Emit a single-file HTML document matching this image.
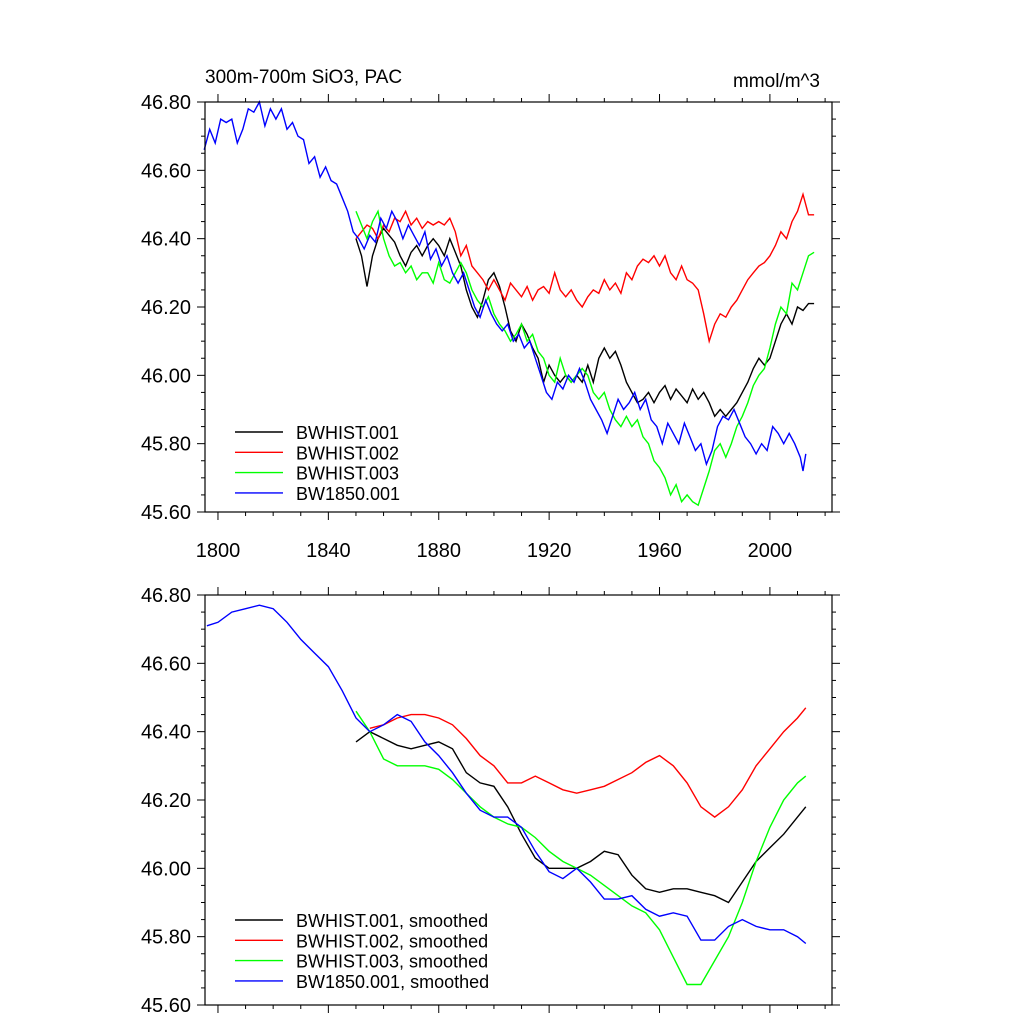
<!DOCTYPE html>
<html><head><meta charset="utf-8"><style>
body{margin:0;background:#fff}
svg{display:block;font-family:"Liberation Sans",sans-serif}
</style></head><body>
<svg id="c" width="1024" height="1024" xmlns="http://www.w3.org/2000/svg"></svg>
<script>
const blueYears=[1795,1797,1799,1801,1803,1805,1807,1809,1811,1813,1815,1817,1819,1821,1823,1825,1827,1829,1831,1833,1835,1837,1839,1841,1843,1845,1847,1849,1851,1853,1855,1857,1859,1861,1863,1865,1867,1869,1871,1873,1875,1877,1879,1881,1883,1885,1887,1889,1891,1893,1895,1897,1899,1901,1903,1905,1907,1909,1911,1913,1915,1917,1919,1921,1923,1925,1927,1929,1931,1933,1935,1937,1939,1941,1943,1945,1947,1949,1951,1953,1955,1957,1959,1961,1963,1965,1967,1969,1971,1973,1975,1977,1979,1981,1983,1985,1987,1989,1991,1993,1995,1997,1999,2001,2003,2005,2007,2009,2011,2012,2013];
const blueVals=[46.66,46.72,46.68,46.75,46.74,46.75,46.68,46.72,46.78,46.77,46.80,46.73,46.78,46.75,46.78,46.72,46.74,46.70,46.69,46.62,46.64,46.58,46.61,46.57,46.56,46.52,46.48,46.42,46.40,46.37,46.41,46.39,46.46,46.43,46.48,46.45,46.40,46.44,46.41,46.38,46.42,46.34,46.37,46.32,46.35,46.30,46.27,46.30,46.25,46.20,46.17,46.22,46.18,46.15,46.13,46.15,46.10,46.12,46.08,46.10,46.05,46.00,45.95,45.93,45.98,45.96,46.00,45.98,46.02,45.98,45.93,45.90,45.87,45.83,45.88,45.93,45.90,45.92,45.95,45.90,45.93,45.87,45.85,45.80,45.86,45.83,45.80,45.86,45.82,45.78,45.80,45.74,45.78,45.85,45.88,45.87,45.90,45.86,45.82,45.80,45.77,45.80,45.78,45.85,45.83,45.80,45.83,45.80,45.76,45.72,45.77];
const histYears=[1850,1852,1854,1856,1858,1860,1862,1864,1866,1868,1870,1872,1874,1876,1878,1880,1882,1884,1886,1888,1890,1892,1894,1896,1898,1900,1902,1904,1906,1908,1910,1912,1914,1916,1918,1920,1922,1924,1926,1928,1930,1932,1934,1936,1938,1940,1942,1944,1946,1948,1950,1952,1954,1956,1958,1960,1962,1964,1966,1968,1970,1972,1974,1976,1978,1980,1982,1984,1986,1988,1990,1992,1994,1996,1998,2000,2002,2004,2006,2008,2010,2012,2014,2016];
const blackVals=[46.40,46.35,46.26,46.35,46.40,46.43,46.41,46.39,46.35,46.32,46.36,46.38,46.35,46.38,46.40,46.38,46.35,46.40,46.36,46.32,46.25,46.20,46.17,46.22,46.28,46.30,46.26,46.20,46.13,46.10,46.15,46.12,46.08,46.05,45.98,46.03,46.00,45.98,46.00,45.98,46.00,45.98,46.03,45.98,46.05,46.08,46.05,46.07,46.03,45.98,45.95,45.92,45.93,45.95,45.92,45.95,45.97,45.93,45.96,45.94,45.92,45.96,45.93,45.95,45.92,45.88,45.90,45.88,45.90,45.92,45.95,45.98,46.02,46.05,46.03,46.05,46.10,46.15,46.18,46.15,46.20,46.19,46.21,46.21];
const redVals=[46.40,46.42,46.44,46.43,46.40,46.44,46.42,46.46,46.45,46.48,46.44,46.46,46.43,46.45,46.44,46.45,46.44,46.46,46.42,46.35,46.38,46.32,46.30,46.28,46.25,46.28,46.25,46.22,46.27,46.25,46.23,46.26,46.22,46.25,46.26,46.24,46.30,46.25,46.23,46.25,46.22,46.20,46.23,46.25,46.24,46.28,46.25,46.27,46.24,46.30,46.28,46.32,46.34,46.33,46.35,46.32,46.35,46.30,46.28,46.32,46.28,46.27,46.25,46.18,46.10,46.15,46.18,46.17,46.20,46.22,46.25,46.28,46.30,46.32,46.33,46.35,46.38,46.42,46.40,46.45,46.48,46.53,46.47,46.47];
const greenVals=[46.48,46.44,46.40,46.45,46.48,46.40,46.35,46.32,46.33,46.30,46.32,46.28,46.30,46.30,46.27,46.33,46.28,46.27,46.30,46.33,46.30,46.25,46.22,46.20,46.23,46.18,46.15,46.13,46.10,46.12,46.15,46.10,46.12,46.07,46.05,46.00,45.98,46.05,46.00,45.98,46.00,46.02,46.00,45.95,45.93,45.95,45.90,45.87,45.85,45.88,45.85,45.87,45.82,45.80,45.75,45.73,45.70,45.65,45.68,45.63,45.65,45.63,45.62,45.67,45.72,45.78,45.80,45.76,45.80,45.85,45.88,45.92,45.97,46.00,46.02,46.08,46.15,46.20,46.18,46.27,46.25,46.30,46.35,46.36];
const sBlueYears=[1796,1800,1805,1810,1815,1820,1825,1830,1835,1840,1845,1850,1855,1860,1865,1870,1875,1880,1885,1890,1895,1900,1905,1910,1915,1920,1925,1930,1935,1940,1945,1950,1955,1960,1965,1970,1975,1980,1985,1990,1995,2000,2005,2010,2013];
const sBlueVals=[46.71,46.72,46.75,46.76,46.77,46.76,46.72,46.67,46.63,46.59,46.52,46.44,46.40,46.42,46.45,46.43,46.37,46.33,46.28,46.22,46.17,46.15,46.15,46.12,46.05,45.99,45.97,46.00,45.96,45.91,45.91,45.92,45.88,45.86,45.87,45.86,45.79,45.79,45.83,45.85,45.83,45.82,45.82,45.80,45.78];
const sHistYears=[1850,1855,1860,1865,1870,1875,1880,1885,1890,1895,1900,1905,1910,1915,1920,1925,1930,1935,1940,1945,1950,1955,1960,1965,1970,1975,1980,1985,1990,1995,2000,2005,2010,2013];
const sBlackVals=[46.37,46.40,46.38,46.36,46.35,46.36,46.37,46.35,46.28,46.25,46.24,46.18,46.10,46.03,46.00,46.00,46.00,46.02,46.05,46.04,45.98,45.94,45.93,45.94,45.94,45.93,45.92,45.90,45.96,46.02,46.06,46.10,46.15,46.18];
const sRedVals=[46.41,46.41,46.42,46.44,46.45,46.45,46.44,46.42,46.38,46.33,46.30,46.25,46.25,46.27,46.25,46.23,46.22,46.23,46.24,46.26,46.28,46.31,46.33,46.30,46.25,46.18,46.15,46.18,46.23,46.30,46.35,46.40,46.44,46.47];
const sGreenVals=[46.46,46.40,46.32,46.30,46.30,46.30,46.29,46.26,46.22,46.18,46.15,46.13,46.12,46.09,46.05,46.02,46.00,45.98,45.95,45.92,45.89,45.87,45.82,45.74,45.66,45.66,45.73,45.80,45.90,46.02,46.12,46.20,46.25,46.27];
const yTicks=[45.6,45.8,46.0,46.2,46.4,46.6,46.8];
const xTicks=[1800,1840,1880,1920,1960,2000];
const legTop=["BWHIST.001","BWHIST.002","BWHIST.003","BW1850.001"];
const legBot=["BWHIST.001, smoothed","BWHIST.002, smoothed","BWHIST.003, smoothed","BW1850.001, smoothed"];
const cols=["#000","#f00","#0f0","#00f"];

const svg=document.getElementById('c');
const NS="http://www.w3.org/2000/svg";
const L=205,R=832,X0=1795.3,X1=2022.5;
const xs=y=>L+(y-X0)/(X1-X0)*(R-L);
function mk(t,a,p){const e=document.createElementNS(NS,t);for(const k in a)e.setAttribute(k,a[k]);(p||svg).appendChild(e);return e;}
function panel(top,bot,name,showX,series,leg,legY){
  const g=mk('g',{});
  
  
  const ys=v=>bot-(v-45.6)/1.2*(bot-top);
  for(let v=45.6;v<=46.801;v+=0.05){
    const y=ys(v);const major=Math.abs(Math.round(v*5)-v*5)<0.01;const len=major?8:4;
    mk('line',{x1:L-len,x2:L,y1:y,y2:y,stroke:'#000','stroke-width':1},g);
    mk('line',{x1:R,x2:R+len,y1:y,y2:y,stroke:'#000','stroke-width':1},g);
  }
  yTicks.forEach(v=>{const t=mk('text',{x:L-14,y:ys(v)+7,'text-anchor':'end','font-size':20},g);t.textContent=v.toFixed(2);
    });
  for(let yr=1800;yr<=2020;yr+=10){const x=xs(yr);const major=(yr-1800)%40===0;const len=major?8:4;
    mk('line',{x1:x,x2:x,y1:bot,y2:bot+len,stroke:'#000'},g);
    mk('line',{x1:x,x2:x,y1:top-len,y2:top,stroke:'#000'},g);}
  if(showX)xTicks.forEach(yr=>{const t=mk('text',{x:xs(yr),y:bot+45,'text-anchor':'middle','font-size':20},g);t.textContent=yr;
    });
  series.forEach((s,i)=>{const pts=s[0].map((yr,j)=>xs(yr).toFixed(1)+','+ys(s[1][j]).toFixed(1)).join(' ');
    const p=mk('polyline',{points:pts,fill:'none',stroke:cols[i],'stroke-width':1.4},g);
    });
  mk('rect',{x:L,y:top,width:R-L,height:bot-top,fill:'none',stroke:'#000','stroke-width':1.2},g);
  leg.forEach((txt,i)=>{const y=legY+i*20.3;
    const ln=mk('line',{x1:235,x2:283,y1:y,y2:y,stroke:cols[i],'stroke-width':1.4},g);
    
    const t=mk('text',{x:296,y:y+7,'font-size':18},g);t.textContent=txt;
    });
}
const order=[[histYears,blackVals],[histYears,redVals],[histYears,greenVals],[blueYears,blueVals]];
panel(102,512,'top-panel',true,order,legTop,432);
panel(595,1005,'bottom-panel',false,[[sHistYears,sBlackVals],[sHistYears.slice(1),sRedVals.slice(1)],[sHistYears,sGreenVals],[sBlueYears,sBlueVals]],legBot,920);
let t=mk('text',{x:205,y:83,'font-size':19});t.textContent='300m-700m SiO3, PAC';

t=mk('text',{x:820,y:87,'font-size':19,'text-anchor':'end'});t.textContent='mmol/m^3';

</script>
</body></html>
